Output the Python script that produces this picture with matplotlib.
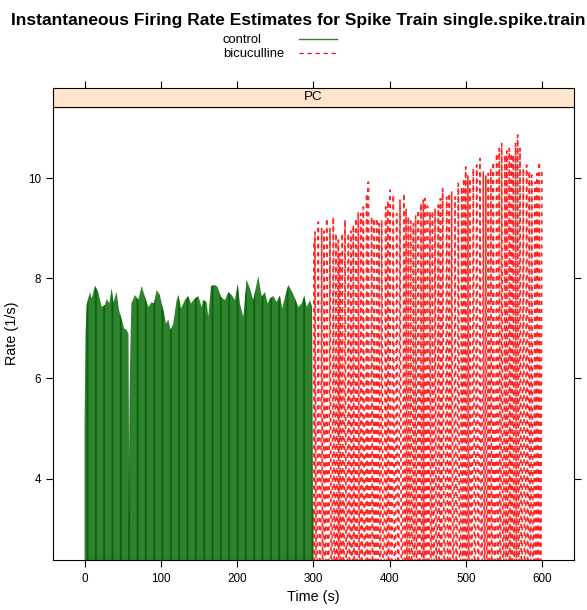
import numpy as np
import matplotlib
matplotlib.use('Agg')
import matplotlib.pyplot as plt
from matplotlib.lines import Line2D

plt.rcParams['font.family'] = ['Liberation Sans', 'DejaVu Sans']
plt.rcParams['lines.scale_dashes'] = False
plt.rcParams['hatch.linewidth'] = 1.4

# ===== 数据（从图中读取的包络） =====
ctl_time = [0, 1.2, 2.7, 7.1, 9.3, 13.6, 18, 22.4, 26.7, 29, 32.4, 35.5, 37.7, 42,
            45.1, 49.5, 52, 55.2, 57.3, 58.2, 59.5, 61.3, 66, 70.4, 74.8, 79.2,
            83.6, 87.9, 91, 94.5, 98.8, 101, 104, 106.7, 109.8, 112.8, 116.3,
            120.7, 122.9, 126.4, 131.6, 136, 139.5, 143.8, 149.1, 153.5, 155.6,
            160, 162.2, 165.7, 171, 174.5, 178.8, 184.1, 188.4, 192.8, 197.2,
            200.7, 203.7, 208.1, 212.5, 216.8, 221.2, 227.7, 232.2, 236.5, 240,
            243, 247.4, 251.8, 256.2, 259.2, 262.7, 267.1, 272.3, 275.8, 280.2,
            284.6, 288, 291.2, 295.5, 298.2, 299.0, 300.0]
ctl_rate = [5.1, 6.9, 7.47, 7.73, 7.6, 7.85, 7.73, 7.43, 7.47, 7.59, 7.5, 7.8, 7.52, 7.73,
            7.37, 7.13, 7.0, 6.97, 6.9, 3.0, 6.17, 7.5, 7.67, 7.57, 7.85, 7.63,
            7.43, 7.53, 7.5, 7.77, 7.67, 7.5, 7.33, 7.1, 7.18, 6.97, 7.1,
            7.57, 7.67, 7.4, 7.57, 7.65, 7.5, 7.59, 7.65, 7.43, 7.57,
            7.53, 7.23, 7.85, 7.87, 7.83, 7.63, 7.57, 7.73, 7.67, 7.57,
            7.89, 7.5, 7.23, 7.97, 7.8, 7.57, 8.05, 7.63, 7.73, 7.5,
            7.6, 7.65, 7.53, 7.66, 7.4, 7.63, 7.87, 7.73, 7.6, 7.43,
            7.5, 7.65, 7.43, 7.57, 7.43, 3.4, 3.4]

bic_time = [300.5, 302, 306.4, 310.8, 314, 317.4, 321.7, 326.1, 329.5, 332.6, 334.8,
            337.8, 341.4, 345.8, 349, 352.3, 355.5, 358.8, 362, 365.4, 369.8, 372,
            376.3, 379.5, 382.9, 386, 389.5, 394.7, 397.5, 400.4, 404.7, 409.1,
            413.5, 418.7, 421.5, 424.4, 427.5, 431, 434, 437.5, 441, 444, 446.2,
            449.5, 452.8, 456, 459.4, 463.7, 466.5, 469.4, 474.7, 478, 481.2,
            485.6, 489.9, 494.4, 497, 499.6, 502.5, 505.2, 509.6, 514, 518.4,
            522.7, 526, 529.3, 532.5, 535.8, 540.2, 543.5, 546.8, 551.1, 553.5,
            556.8, 559.5, 562, 565, 567.7, 570.8, 575.1, 579.5, 583, 586.1,
            590.5, 593, 596.1, 599.5]
bic_rate = [8.7, 8.93, 9.13, 9.0, 8.95, 9.2, 9.0, 9.23, 8.9, 8.77, 8.5,
            8.9, 9.17, 8.9, 8.95, 9.07, 9.2, 9.33, 9.3, 9.43, 9.7, 9.93,
            9.23, 9.2, 9.2, 9.1, 9.17, 9.43, 9.55, 9.77, 9.67, 9.3,
            9.57, 9.7, 9.4, 9.23, 9.15, 9.1, 9.25, 9.37, 9.5, 9.57, 9.6,
            9.45, 9.33, 9.35, 9.4, 9.47, 9.6, 9.8, 9.63, 9.7, 9.73,
            9.63, 9.9, 9.83, 10.0, 10.23, 10.05, 10.0, 10.2, 10.27, 10.4,
            10.13, 10.05, 10.1, 10.2, 10.33, 10.5, 10.6, 10.7, 10.47, 10.55,
            10.6, 10.5, 10.47, 10.7, 10.87, 10.6, 10.2, 10.27, 10.15, 10.07,
            9.93, 10.1, 10.33, 10.2]
bic_trough = -1.0   # 两次放电之间的最低值（低于可见范围）

x_ticks = [0, 100, 200, 300, 400, 500, 600]
y_ticks = [4, 6, 8, 10]

# ===== 布局 =====
W, H = 587, 610
fig = plt.figure(figsize=(W / 100, H / 100), dpi=100)
px_l, px_r, px_top, px_bot = 53.3, 574, 107, 560
ax = fig.add_axes([px_l / W, 1 - px_bot / H, (px_r - px_l) / W, (px_bot - px_top) / H])
strip = fig.add_axes([px_l / W, 1 - px_top / H, (px_r - px_l) / W, 19 / H])

xlim = (-41, 641.6)
ylim = (2.37, 11.43)

# control：填充 + 竖条纹
ax.fill_between(ctl_time, ylim[0] - 1, ctl_rate, facecolor='#2f822f',
                edgecolor='#0a660a', hatch='||', linewidth=0, zorder=2)

# bicuculline：锯齿虚线
bt = np.asarray(bic_time)
br = np.asarray(bic_rate)
zx = np.empty(2 * len(bt) - 1)
zy = np.empty(2 * len(bt) - 1)
zx[0::2] = bt
zx[1::2] = (bt[:-1] + bt[1:]) / 2
zy[0::2] = br
zy[1::2] = bic_trough
ax.plot(zx, zy, color='#ff0000', linewidth=1.2, dashes=(2.9, 2.9), alpha=0.85, zorder=3)

ax.set_xlim(*xlim)
ax.set_ylim(*ylim)
ax.set_xticks(x_ticks)
ax.set_yticks(y_ticks)
ax.tick_params(direction='out', length=5, width=0.8, labelsize=8.4, pad=4,
               top=False, right=True, labelright=False)
ax.set_xlabel('Time (s)', fontsize=10.4, labelpad=4)
ax.set_ylabel('Rate (1/s)', fontsize=10.4, labelpad=6)
for s in ax.spines.values():
    s.set_linewidth(0.8)

# strip
strip.set_facecolor('#ffe5cc')
strip.set_xlim(*xlim)
strip.set_ylim(0, 1)
strip.set_xticks(x_ticks)
strip.set_yticks([])
strip.tick_params(axis='x', direction='out', length=5, width=0.8, top=True, bottom=False,
                  labeltop=False, labelbottom=False)
strip.text(0.5, 0.5, 'PC', transform=strip.transAxes, ha='center', va='center', fontsize=9.6)
for s in strip.spines.values():
    s.set_linewidth(0.8)

# 标题与图例
fig.text(298 / W, 1 - 20 / H, 'Instantaneous Firing Rate Estimates for Spike Train single.spike.train',
         ha='center', va='center', fontsize=12.5, fontweight='bold')
fig.text(222.7 / W, 1 - 40 / H, 'control', ha='left', va='center', fontsize=9.4)
fig.text(222.7 / W, 1 - 54 / H, 'bicuculline', ha='left', va='center', fontsize=9.4)
fig.add_artist(Line2D([299.3 / W, 336.7 / W], [1 - 39 / H, 1 - 39 / H],
                      color='#2f822f', linewidth=1.0, transform=fig.transFigure))
fig.add_artist(Line2D([299.3 / W, 336.7 / W], [1 - 53 / H, 1 - 53 / H],
                      color='#ff0000', linewidth=0.9, dashes=(2.9, 2.9), transform=fig.transFigure))

fig.savefig('out.png', dpi=100)
